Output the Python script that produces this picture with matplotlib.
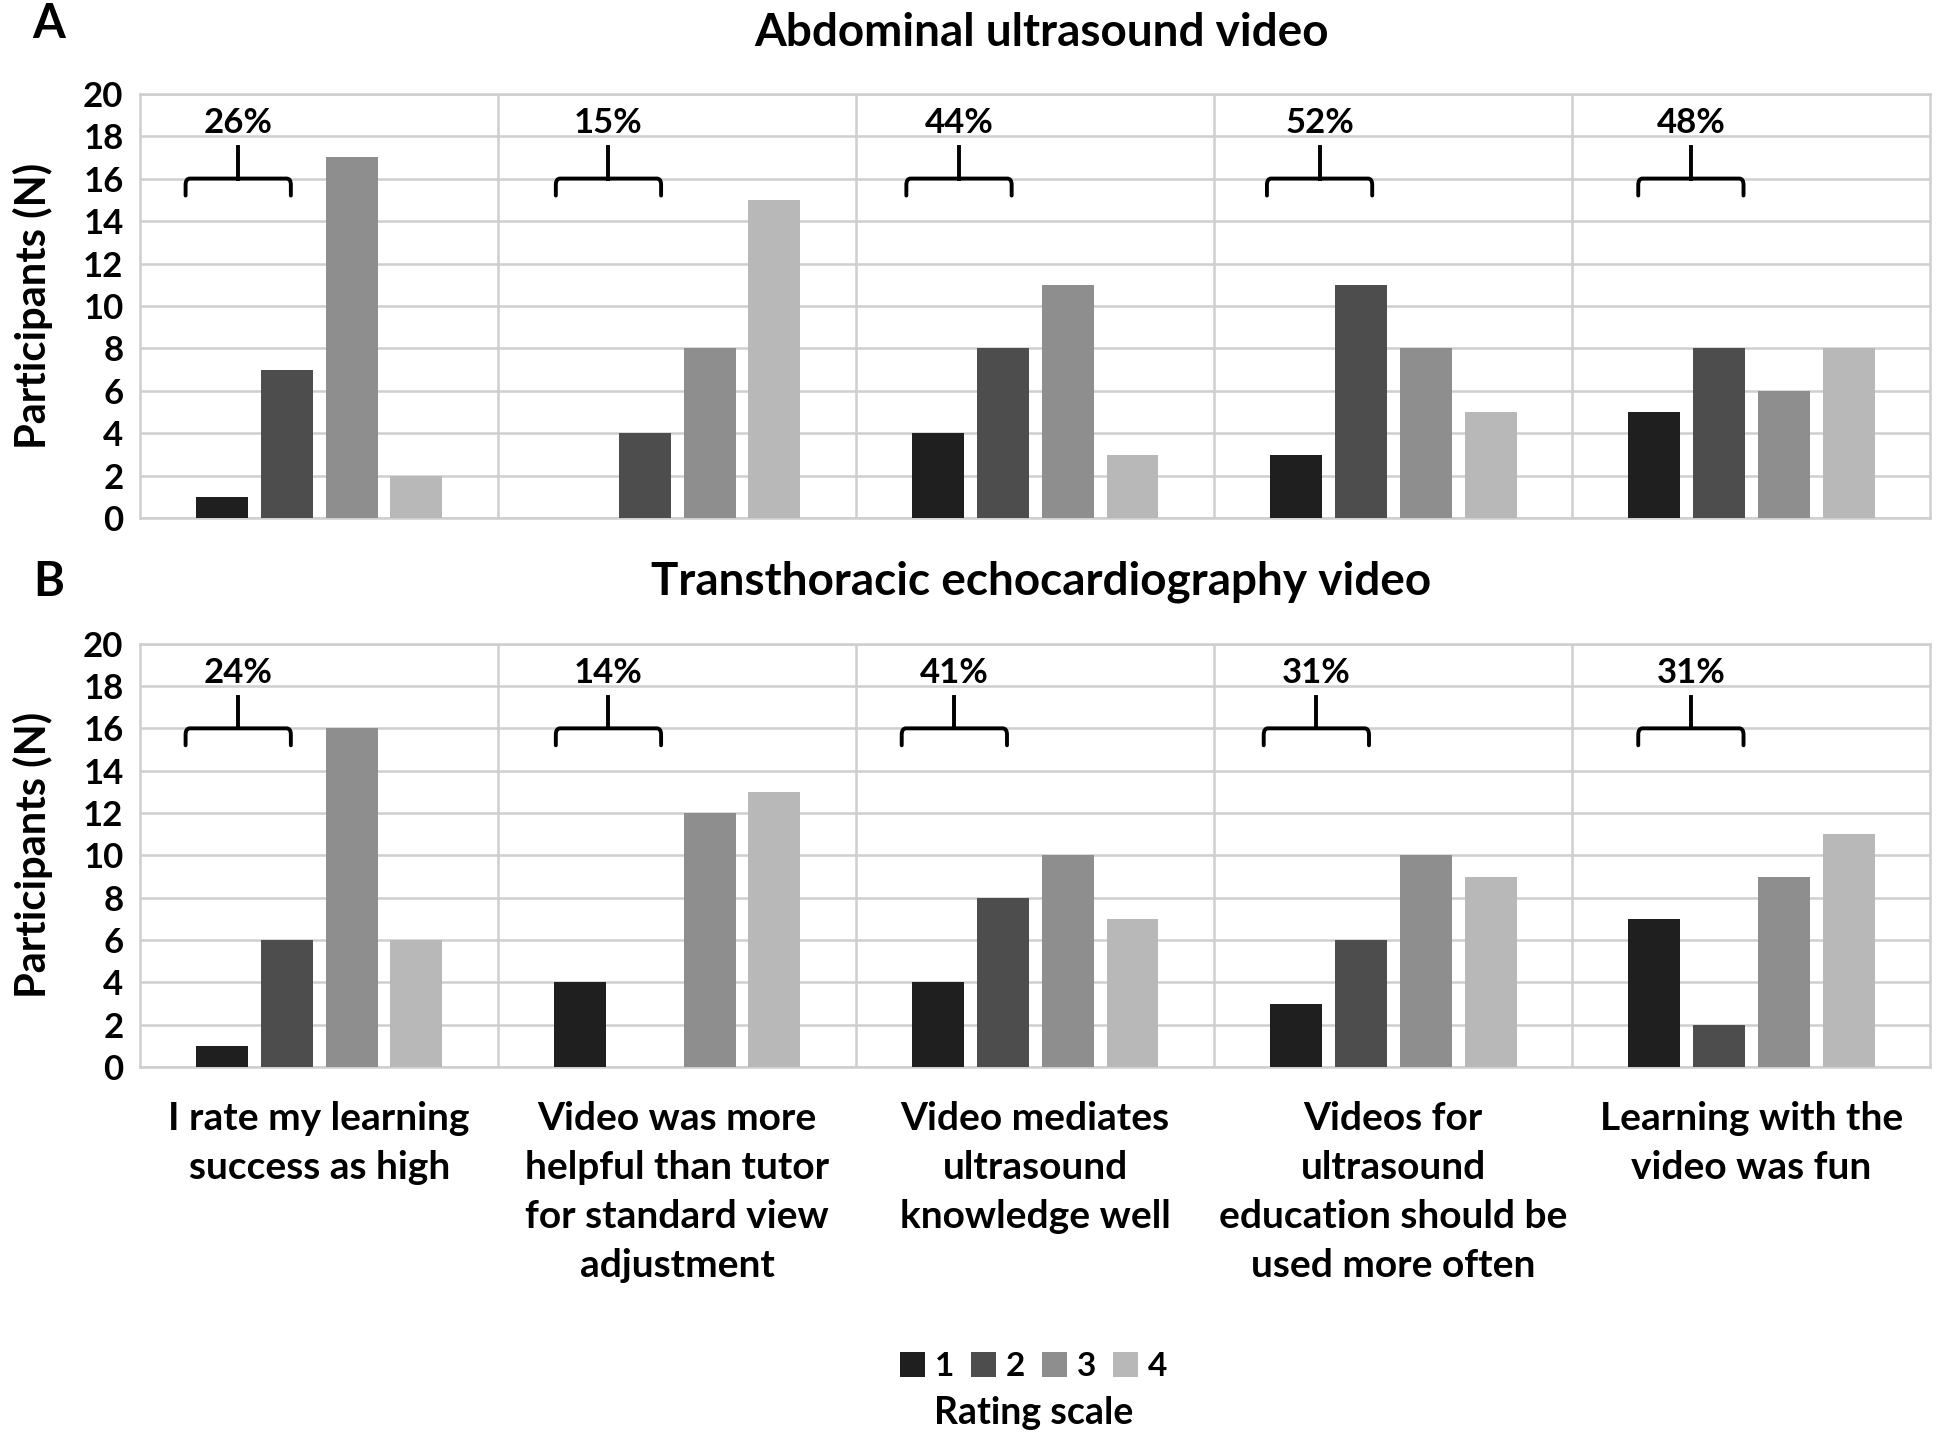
import numpy as np
import matplotlib.pyplot as plt
from matplotlib.path import Path
from matplotlib.patches import PathPatch, Patch

plt.rcParams['font.family'] = ['Lato', 'DejaVu Sans']
plt.rcParams['font.weight'] = 'bold'

# ---- data ----
categories = [
    "I rate my learning\nsuccess as high",
    "Video was more\nhelpful than tutor\nfor standard view\nadjustment",
    "Video mediates\nultrasound\nknowledge well",
    "Videos for\nultrasound\neducation should be\nused more often",
    "Learning with the\nvideo was fun",
]
ratings = ["1", "2", "3", "4"]

abd_r1 = [1, 0, 4, 3, 5]
abd_r2 = [7, 4, 8, 11, 8]
abd_r3 = [17, 8, 11, 8, 6]
abd_r4 = [2, 15, 3, 5, 8]
abd_pct = [26, 15, 44, 52, 48]

tte_r1 = [1, 4, 4, 3, 7]
tte_r2 = [6, 0, 8, 6, 2]
tte_r3 = [16, 12, 10, 10, 9]
tte_r4 = [6, 13, 7, 9, 11]
tte_pct = [24, 14, 41, 31, 31]

# ---- layout / style ----
colors = ["#1f1f1f", "#4d4d4d", "#8e8e8e", "#b8b8b8"]
grid_col = "#cfcfcf"
bar_w = 0.145
bar_step = 0.181
brace_half = 0.147
brace_pos_abd = [0.274, 0.308, 0.287, 0.294, 0.331]
brace_pos_tte = [0.274, 0.308, 0.274, 0.285, 0.331]


def draw_brace(ax, xc, half):
    x0, x1 = xc - half, xc + half
    yb, ye, yt = 16.0, 15.2, 17.5
    rx, ry = 0.012, 0.3
    verts = [(x0, ye), (x0, yb - ry), (x0, yb), (x0 + rx, yb),
             (x1 - rx, yb), (x1, yb), (x1, yb - ry), (x1, ye)]
    codes = [Path.MOVETO, Path.LINETO, Path.CURVE3, Path.CURVE3,
             Path.LINETO, Path.CURVE3, Path.CURVE3, Path.LINETO]
    ax.add_patch(PathPatch(Path(verts, codes), fill=False, lw=2.8,
                           edgecolor="black", capstyle="round", zorder=4))
    ax.plot([xc, xc], [yb, yt], color="black", lw=2.8, zorder=4)


def draw_panel(ax, series, pct, brace_pos):
    n = len(categories)
    x = np.arange(n) + 0.5
    for k, vals in enumerate(series):
        ax.bar(x + (k - 1.5) * bar_step, vals, width=bar_w,
               color=colors[k], zorder=3)
    ax.set_xlim(0, n)
    ax.set_ylim(0, 20)
    ax.set_yticks(range(0, 21, 2))
    ax.set_xticks([])
    ax.yaxis.grid(True, color=grid_col, lw=1.8)
    ax.set_axisbelow(True)
    for i in range(1, n):
        ax.axvline(i, color=grid_col, lw=1.8, zorder=1)
    for s in ax.spines.values():
        s.set_color(grid_col)
        s.set_linewidth(1.8)
    ax.tick_params(axis="y", length=0, pad=12, labelsize=25)
    ax.set_ylabel("Participants (N)", fontsize=30, fontweight="bold", labelpad=22)
    for i in range(n):
        xc = i + brace_pos[i]
        draw_brace(ax, xc, brace_half)
        ax.text(xc, 18.6, f"{pct[i]}%", ha="center", va="center",
                fontsize=25, fontweight="bold")


fig = plt.figure(figsize=(19.46, 14.4), dpi=100)
ax1 = fig.add_axes([0.072, 0.640, 0.920, 0.295])
ax2 = fig.add_axes([0.072, 0.259, 0.920, 0.294])

draw_panel(ax1, [abd_r1, abd_r2, abd_r3, abd_r4], abd_pct, brace_pos_abd)
draw_panel(ax2, [tte_r1, tte_r2, tte_r3, tte_r4], tte_pct, brace_pos_tte)

fig.text(0.535, 0.977, "Abdominal ultrasound video", ha="center", va="center",
         fontsize=33, fontweight="bold")
fig.text(0.535, 0.596, "Transthoracic echocardiography video", ha="center",
         va="center", fontsize=33, fontweight="bold")
fig.text(0.025, 0.983, "A", ha="center", va="center", fontsize=34, fontweight="bold")
fig.text(0.025, 0.596, "B", ha="center", va="center", fontsize=34, fontweight="bold")

# category labels under the lower panel
for i, lab in enumerate(categories):
    ax2.text(i + 0.5, -1.6, lab, ha="center", va="top", fontsize=28,
             fontweight="bold", linespacing=1.48)

handles = [Patch(facecolor=c, edgecolor="none") for c in colors]
fig.legend(handles, ratings, loc="center", bbox_to_anchor=(0.531, 0.051),
           ncol=4, frameon=False, fontsize=24, handlelength=0.75,
           handleheight=0.75, handletextpad=0.3, columnspacing=0.5)
fig.text(0.531, 0.019, "Rating scale", ha="center", va="center",
         fontsize=27, fontweight="bold")

fig.savefig("out.png", dpi=100, facecolor="white")
